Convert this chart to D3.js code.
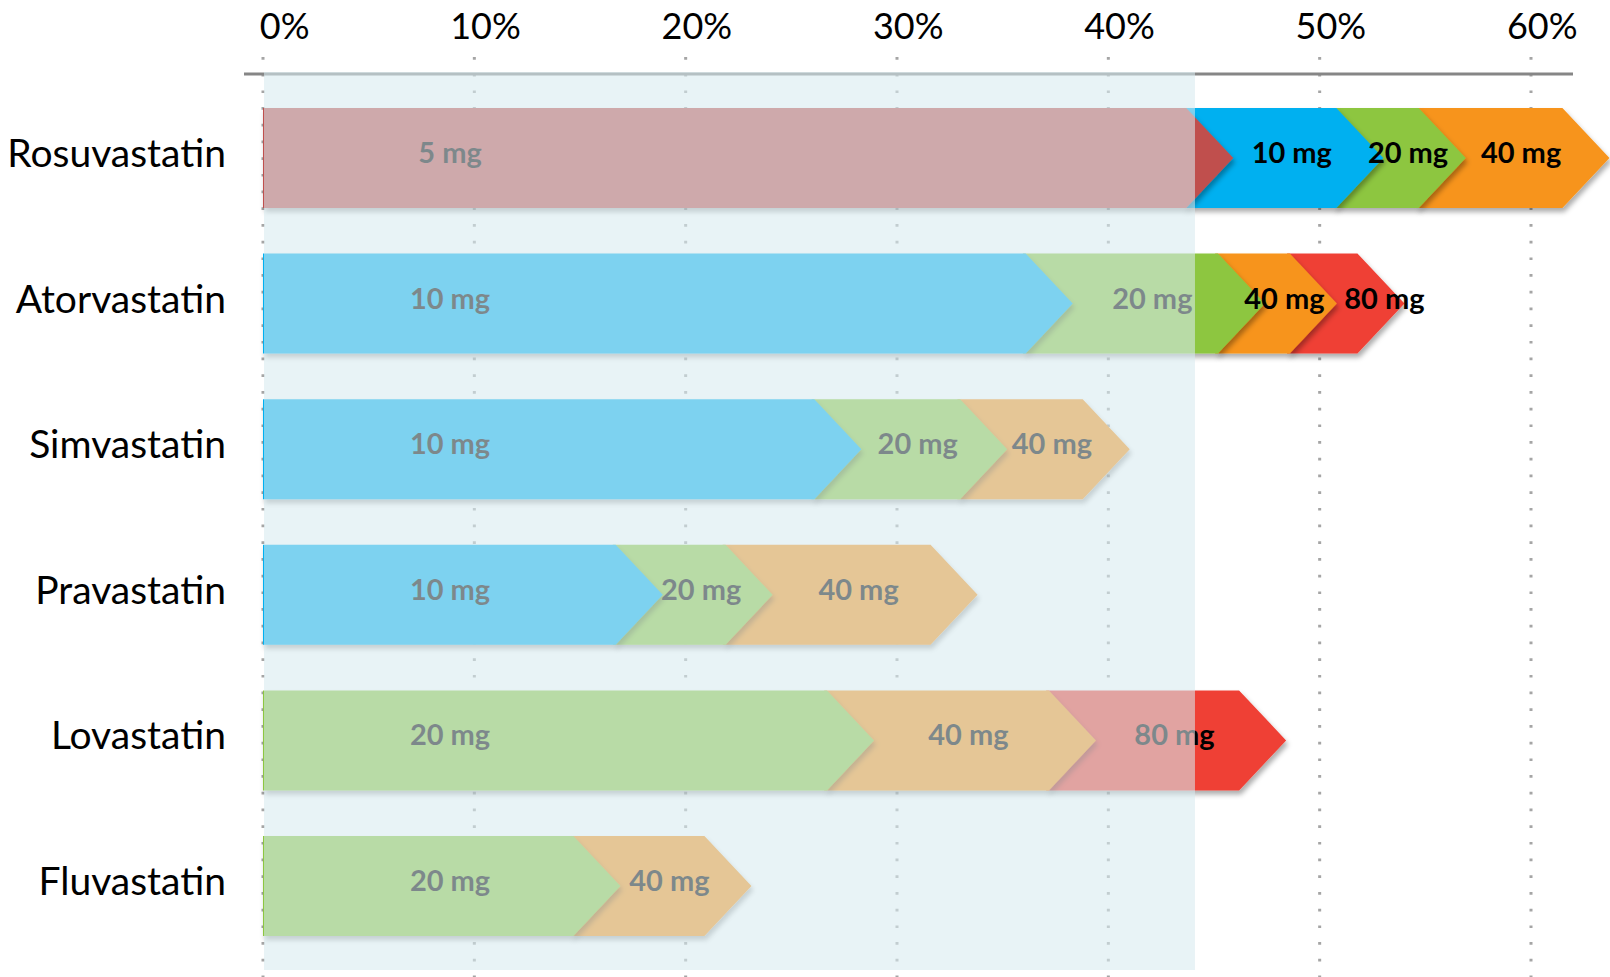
<!DOCTYPE html>
<html>
<head>
<meta charset="utf-8">
<script src="https://cdn.jsdelivr.net/npm/d3@7"></script>
<style>
  html, body { margin: 0; padding: 0; background: #ffffff; }
  svg { display: block; }
  text { font-family: "Lato", "Open Sans", sans-serif; }
</style>
</head>
<body>
<svg id="chart" width="1610" height="977"></svg>
<script>
// LDL-C reduction (%) reached by each statin at each daily dose
const drugs = ["Rosuvastatin", "Atorvastatin", "Simvastatin", "Pravastatin", "Lovastatin", "Fluvastatin"];
const doses = [
  [5, 10, 20, 40],
  [10, 20, 40, 80],
  [10, 20, 40],
  [10, 20, 40],
  [20, 40, 80],
  [20, 40]
];
const reductions = [
  [44.8, 51.9, 55.8, 62.6],
  [37.2, 46.3, 49.7, 52.9],
  [27.2, 34.1, 39.9],
  [17.8, 23.0, 32.7],
  [27.8, 38.3, 47.3],
  [15.8, 22.0]
];
const doseLevels = [5, 10, 20, 40, 80];
const doseColors = ["#c0504d", "#00b0f0", "#8dc63f", "#f7941d", "#ef4136"];
const xTicks = [0, 10, 20, 30, 40, 50, 60];
const targetReduction = 44.1;   // shaded zone: 0 .. target

const svg = d3.select("#chart");

const x = d3.scaleLinear().domain([0, 60]).range([263, 1531]);
const y = d3.scaleBand().domain(drugs).range([74, 970])
  .paddingInner(0.313).paddingOuter(0.233);
const color = d3.scaleOrdinal().domain(doseLevels).range(doseColors);

// drop shadow for the chevrons
const defs = svg.append("defs");
const f = defs.append("filter").attr("id", "shadow")
  .attr("x", "-5%").attr("y", "-20%").attr("width", "115%").attr("height", "150%");
f.append("feDropShadow").attr("dx", 2).attr("dy", 4).attr("stdDeviation", 2.6)
  .attr("flood-color", "#000").attr("flood-opacity", 0.32);

// dotted vertical gridlines
svg.append("g").selectAll("line").data(xTicks).join("line")
  .attr("x1", d => x(d)).attr("x2", d => x(d))
  .attr("y1", 57).attr("y2", 977)
  .attr("stroke", "#a5a5a5").attr("stroke-width", 3)
  .attr("stroke-dasharray", "2.7 14");

// top axis rule
svg.append("line")
  .attr("x1", x(0) - 19).attr("x2", x(60) + 42)
  .attr("y1", 74).attr("y2", 74)
  .attr("stroke", "#868686").attr("stroke-width", 3);

// top axis labels
const axis = svg.append("g").attr("transform", "translate(0,39)")
  .call(d3.axisTop(x).tickValues(xTicks).tickFormat(d => d + "%").tickSize(0));
axis.select(".domain").remove();
axis.selectAll("text")
  .attr("x", 46).attr("y", 0).attr("dy", 0)
  .attr("text-anchor", "end")
  .style("font-family", "Lato, sans-serif")
  .style("font-size", "36px")
  .attr("fill", "#000");

// drug names
svg.append("g").selectAll("text").data(drugs).join("text")
  .attr("x", 226)
  .attr("y", d => y(d) + y.bandwidth() / 2 + 9)
  .attr("text-anchor", "end")
  .style("font-size", "39px")
  .attr("fill", "#000")
  .text(d => d);

// chevron stacks
const h = y.bandwidth();
const depth = 0.47 * h;
const firstLabelAt = 8.85;
const minLabelGap = 100;   // centre-to-centre spacing between dose labels

function chevron(i, vals, top) {
  const mid = top + h / 2, bot = top + h;
  const flat = x(vals[i]) - depth / 2, tip = x(vals[i]) + depth / 2;
  if (i === 0) {
    return [[x(0), top], [flat, top], [tip, mid], [flat, bot], [x(0), bot]];
  }
  const pFlat = x(vals[i - 1]) - depth / 2 - 3, pTip = x(vals[i - 1]) + depth / 2 - 3;
  return [[pFlat, top], [flat, top], [tip, mid], [flat, bot], [pFlat, bot], [pTip, mid]];
}

drugs.forEach((drug, r) => {
  const vals = reductions[r];
  const top = y(drug);
  const segs = vals.map((v, i) => ({ i, v, dose: doses[r][i] }));
  // label centres: middle of each dose step, pushed right if too close to the previous one
  segs.forEach((d, i) => {
    if (i === 0) { d.lx = x(firstLabelAt); return; }
    const mid = (x(vals[i - 1]) + x(d.v)) / 2 + 7;
    d.lx = Math.max(mid, segs[i - 1].lx + minLabelGap);
  });
  const g = svg.append("g");
  // later doses sit underneath earlier ones
  g.selectAll("polygon").data(segs.slice().reverse()).join("polygon")
    .attr("points", d => chevron(d.i, vals, top).map(p => p.join(",")).join(" "))
    .attr("fill", d => color(d.dose))
    .attr("filter", "url(#shadow)");
  g.selectAll("text").data(segs).join("text")
    .attr("x", d => d.lx)
    .attr("y", top + h / 2 + 5)
    .attr("text-anchor", "middle")
    .style("font-size", "29px")
    .style("font-weight", 700)
    .attr("fill", "#000")
    .text(d => d.dose + " mg");
});

// translucent target zone laid over everything up to the target reduction
svg.append("rect")
  .attr("x", x(0) + 1).attr("width", x(targetReduction) - x(0) - 1)
  .attr("y", 72).attr("height", 970 - 72)
  .attr("fill", "rgb(215,234,240)")
  .attr("opacity", 0.58);
</script>
</body>
</html>
